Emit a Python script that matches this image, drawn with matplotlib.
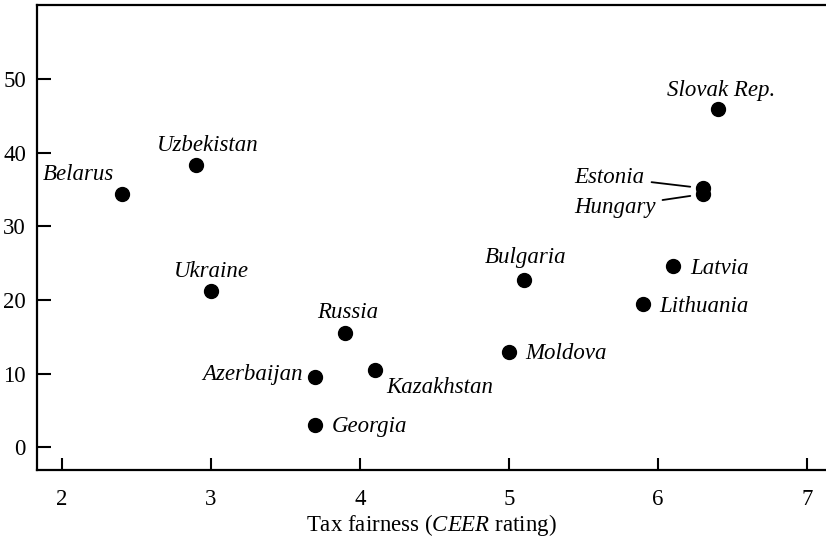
import matplotlib.pyplot as plt

# ---- data
countries = ['Belarus', 'Uzbekistan', 'Ukraine', 'Russia', 'Azerbaijan', 'Kazakhstan',
             'Georgia', 'Bulgaria', 'Moldova', 'Slovak Rep.', 'Estonia', 'Hungary',
             'Latvia', 'Lithuania']
tax_fairness = [2.4, 2.9, 3.0, 3.9, 3.7, 4.1, 3.7, 5.1, 5.0, 6.4, 6.3, 6.3, 6.1, 5.9]
values = [34.4, 38.3, 21.2, 15.5, 9.5, 10.5, 3.0, 22.7, 12.9, 45.9, 35.2, 34.4, 24.6, 19.4]

# label placement (offset in pixels, horizontal alignment)
label_pos = {
    'Belarus': (-43, 20, 'center'),
    'Uzbekistan': (12, 20, 'center'),
    'Ukraine': (0, 20, 'center'),
    'Russia': (3, 21, 'center'),
    'Azerbaijan': (-12, 3, 'right'),
    'Kazakhstan': (11, -18, 'left'),
    'Georgia': (16, -1, 'left'),
    'Bulgaria': (2, 23, 'center'),
    'Moldova': (16, -1, 'left'),
    'Slovak Rep.': (4, 19, 'center'),
    'Estonia': (-58, 11, 'right'),
    'Hungary': (-47, -13, 'right'),
    'Latvia': (17, -2, 'left'),
    'Lithuania': (16, -2, 'left'),
}
with_leader = ['Estonia', 'Hungary']

plt.rcParams['font.family'] = ['Liberation Serif', 'DejaVu Serif']
plt.rcParams['mathtext.fontset'] = 'custom'
plt.rcParams['mathtext.it'] = 'Liberation Serif:italic'
plt.rcParams['mathtext.rm'] = 'Liberation Serif'

fig = plt.figure(figsize=(8.26, 5.44), dpi=100)
ax = fig.add_axes([37/826, 74/544, 1 - 37/826, (470 - 5)/544])

ax.scatter(tax_fairness, values, s=100, color='black', zorder=3)

for name, x, y in zip(countries, tax_fairness, values):
    dx, dy, ha = label_pos[name]
    props = None
    if name in with_leader:
        props = dict(arrowstyle='-', color='black', lw=1.3, shrinkA=3, shrinkB=9)
    ax.annotate(name, xy=(x, y), xytext=(dx, dy), textcoords='offset pixels',
                ha=ha, va='center', fontsize=16.5, style='italic',
                arrowprops=props)

ax.set_xlim(1.832, 7.128)
ax.set_ylim(-3.1, 60.1)
ax.set_xticks([2, 3, 4, 5, 6, 7])
ax.set_yticks([0, 10, 20, 30, 40, 50])
ax.tick_params(direction='in', length=9, width=1.5, labelsize=16.5)
ax.tick_params(axis='x', pad=14)
ax.tick_params(axis='y', length=10, pad=8)
for side in ['left', 'bottom', 'top']:
    ax.spines[side].set_linewidth(1.6)
ax.spines['right'].set_visible(False)

ax.set_xlabel('Tax fairness ($\\mathit{CEER}$ rating)', fontsize=16.5, labelpad=1)

plt.savefig('out.png', dpi=100)
